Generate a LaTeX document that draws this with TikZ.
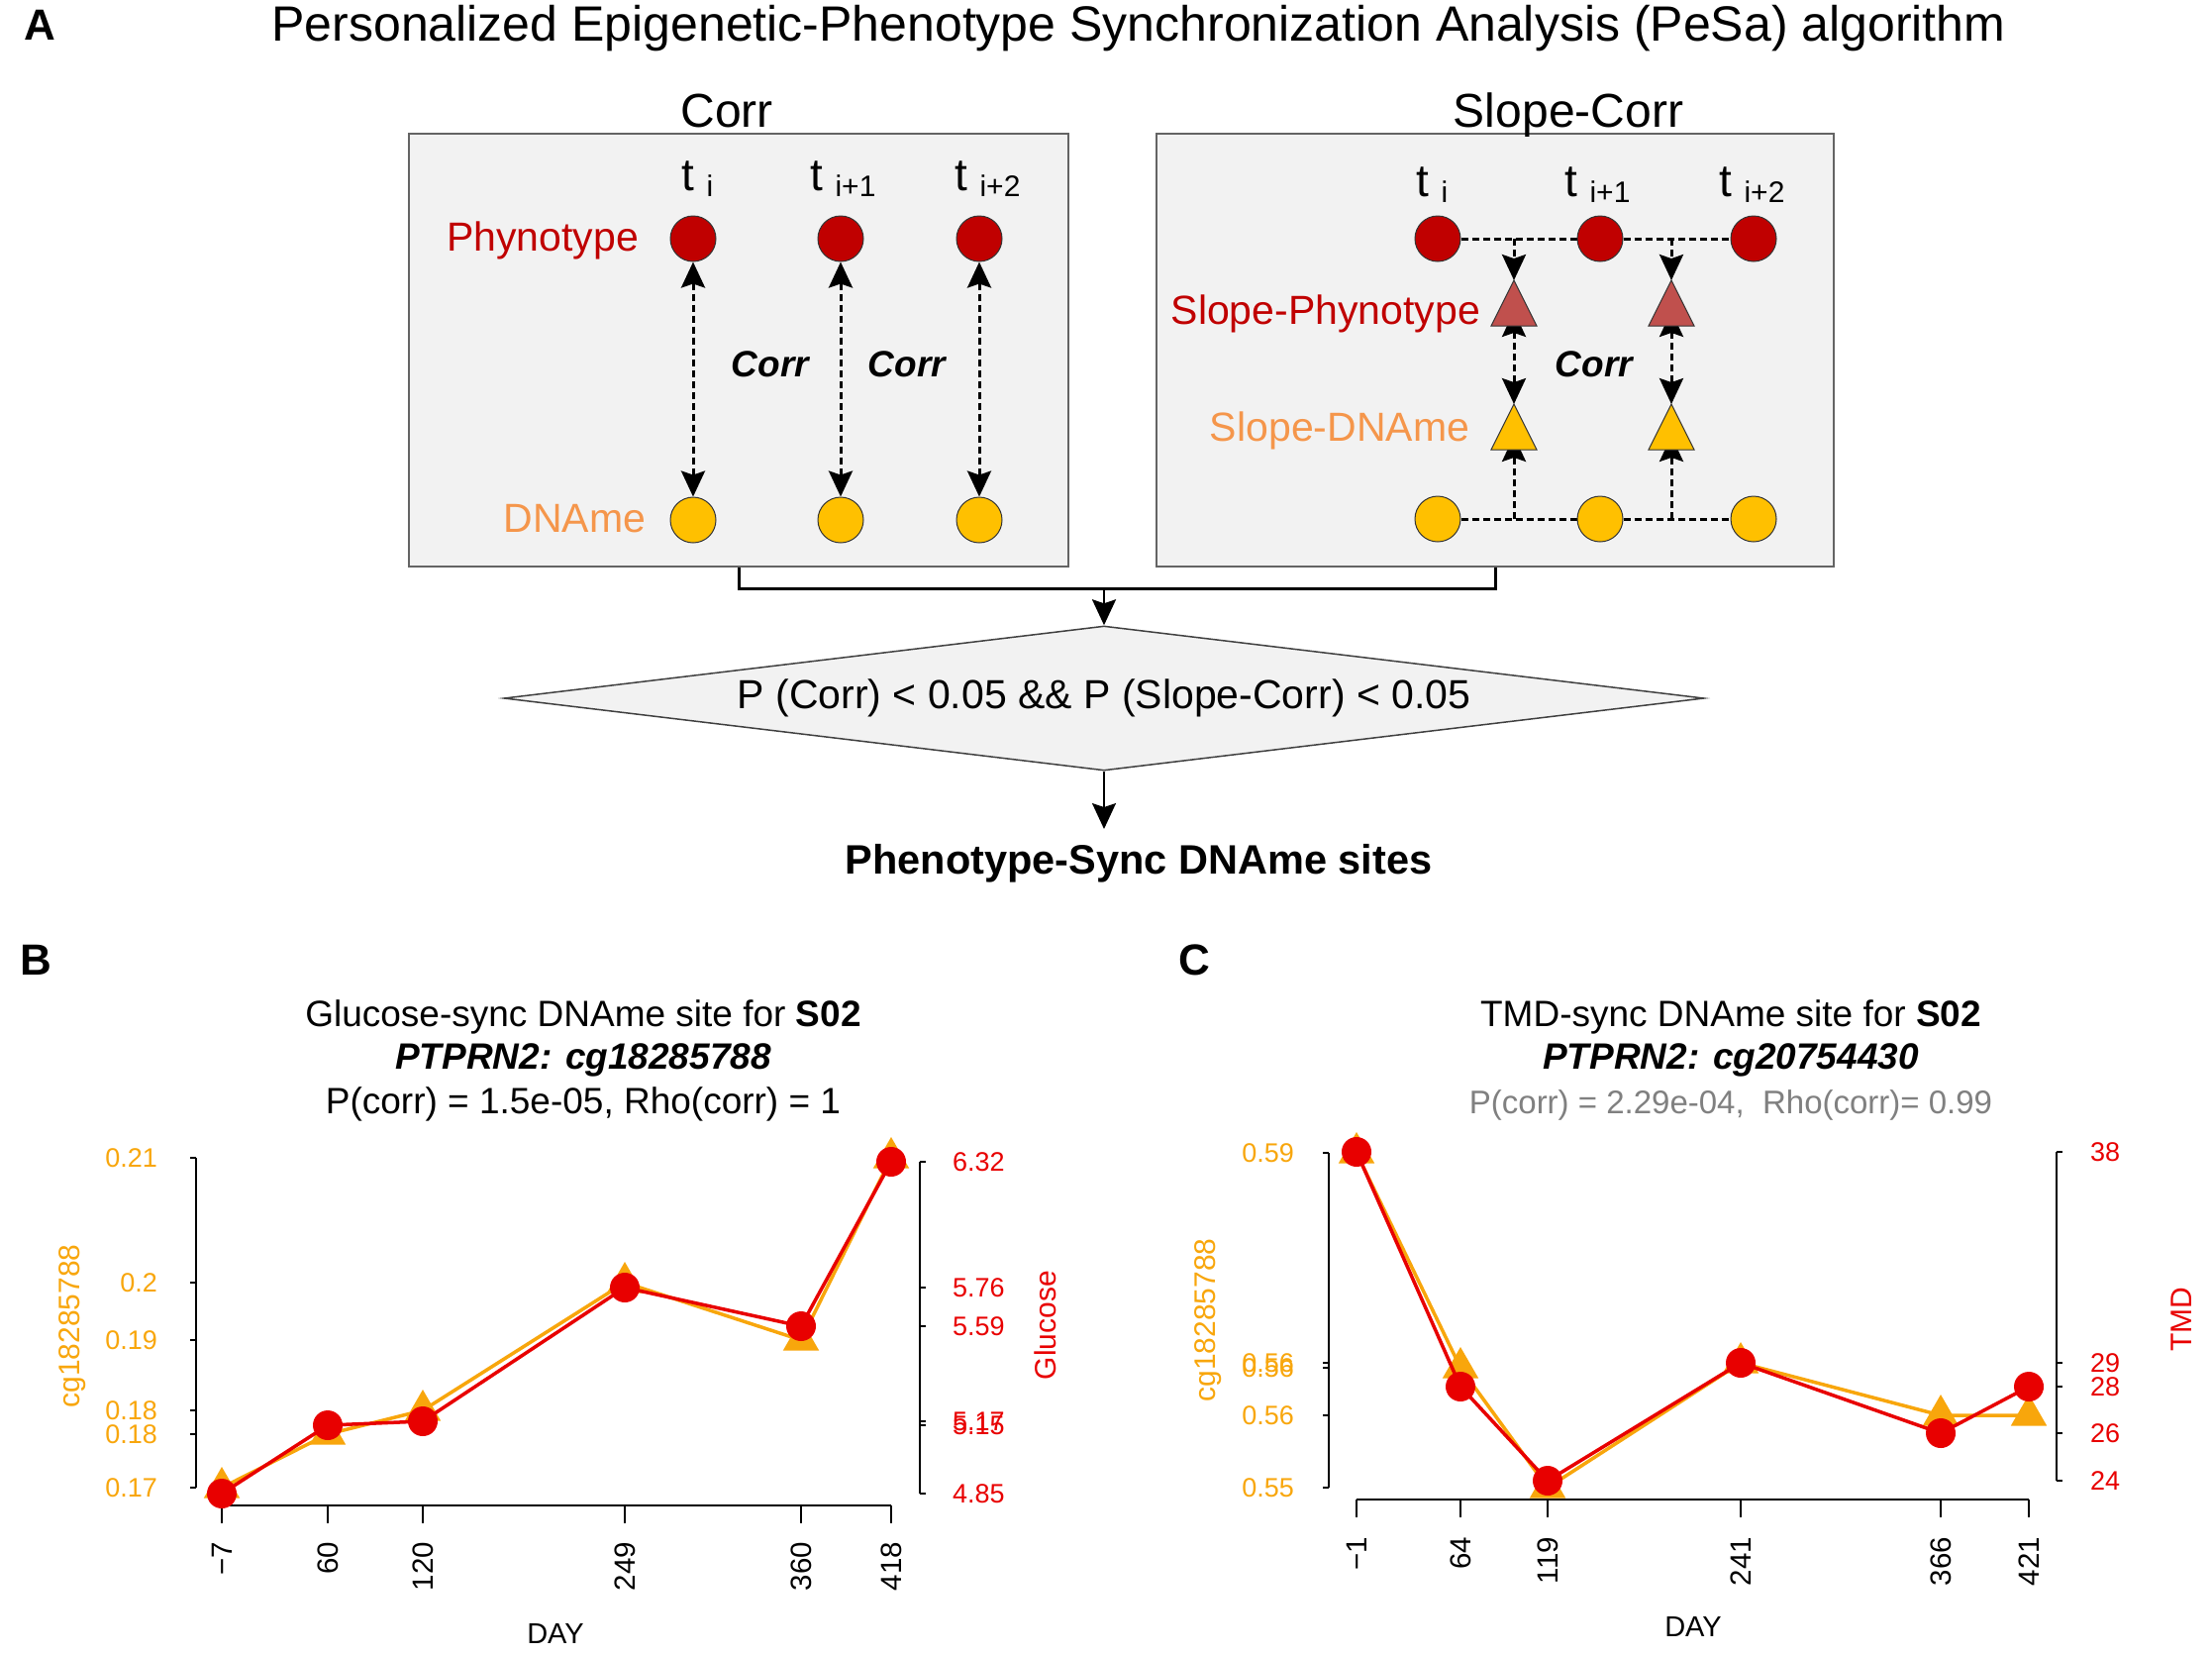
\documentclass[tikz,border=0pt]{standalone}
\usepackage{fontspec}
\setmainfont{Liberation Sans}
\usetikzlibrary{positioning,shapes.geometric,arrows.meta}

\definecolor{phenred}{RGB}{192,0,0}
\definecolor{dnayel}{RGB}{255,192,0}
\definecolor{dnaorange}{RGB}{245,150,75}
\definecolor{slopered}{RGB}{192,80,77}
\definecolor{boxfill}{RGB}{242,242,242}
\definecolor{boxline}{RGB}{100,100,100}
\definecolor{plotorange}{RGB}{248,166,12}
\definecolor{plotred}{RGB}{232,0,0}

\newcommand{\fsz}[1]{\fontsize{#1}{#1}\selectfont}
\newcommand{\tsub}[1]{\raisebox{-6pt}{\fsz{30}#1}}

\pgfdeclarelayer{back}
\pgfdeclarelayer{mid}
\pgfsetlayers{back,mid,main}

\begin{document}
\begin{tikzpicture}[
    x = 1pt,
    y = -1pt,
    txt/.style={
        inner sep = 0pt,
        outer sep = 0pt
    },
    panel/.style={
        draw = boxline,
        fill = boxfill,
        line width = 2pt,
        minimum height = 437pt,
        inner sep = 0pt
    },
    phen/.style={
        circle,
        draw = black!80,
        line width = 1pt,
        fill = phenred,
        minimum size = 46pt,
        inner sep = 0pt
    },
    dname/.style={phen, fill = dnayel},
    ptri/.style={
        isosceles triangle,
        shape border rotate = 90,
        isosceles triangle stretches,
        minimum width = 46pt,
        minimum height = 46pt,
        inner sep = 0pt,
        outer sep = 0pt,
        draw = black!80,
        line width = 1pt,
        fill = slopered
    },
    dtri/.style={ptri, fill = dnayel},
    dshd/.style={line width = 3pt, dash pattern = on 7pt off 4pt},
    conn/.style={line width = 3pt},
    axis/.style={line width = 2pt},
    tick/.style={txt, font = \fsz{27}},
    xtick/.style={txt, font = \fsz{29.5}, rotate = 90, anchor = east},
    axlab/.style={txt, font = \fsz{30}, rotate = 90},
    otri/.style={
        regular polygon,
        regular polygon sides = 3,
        minimum size = 42pt,
        inner sep = 0pt,
        fill = plotorange
    },
    rdot/.style={
        circle,
        minimum size = 30pt,
        inner sep = 0pt,
        fill = plotred
    },
    oline/.style={line width = 3.5pt, plotorange},
    rline/.style={line width = 3.5pt, plotred},
    >={Stealth[length=26pt,width=24pt,inset=4pt]}
]
\useasboundingbox (0,0) rectangle (2234,1671);

% ---- A: the algorithm
\node[txt, font = \bfseries\fsz{44}, anchor = base] (lettA) at (40,40) {A};
\node[txt, font = \fsz{50}, anchor = base] (title) at (1150,41)
    {Personalized Epigenetic-Phenotype Synchronization Analysis (PeSa) algorithm};

\begin{pgfonlayer}{back}
\node[panel, minimum width = 666pt] (corrbox) at (746,353.5) {};
\node[panel, minimum width = 684pt] (slopebox) at (1510,353.5) {};
\end{pgfonlayer}
\node[txt, font = \fsz{48}, anchor = base] (corrhd) at (734,128) {Corr};
\node[txt, font = \fsz{48}, anchor = base] (slopehd) at (1584,128) {Slope-Corr};

\node[txt, font = \fsz{41}, text = phenred, anchor = base east] (phenlab) at (645,253) {Phynotype};
\node[txt, font = \fsz{41}, text = dnaorange, anchor = base east] (dnalab) at (652,537) {DNAme};
\node[txt, font = \fsz{41}, text = phenred, anchor = base east] (sphenlab) at (1495,327) {Slope-Phynotype};
\node[txt, font = \fsz{41}, text = dnaorange, anchor = base east] (sdnalab) at (1484,445) {Slope-DNAme};

\foreach \ai/\xx in {1/700,2/849,3/989}
{
    \node[phen] (lp\ai) at (\xx,241) {};
    \node[dname] (ld\ai) at (\xx,525) {};
}
\foreach \ai/\xx in {1/1452,2/1616,3/1771}
{
    \node[phen] (rp\ai) at (\xx,241) {};
    \node[dname] (rd\ai) at (\xx,524) {};
}
\foreach \ai/\xx/\ts in {1/688/i,2/818/i+1,3/964/i+2}
    \node[txt, font = \fsz{46}, anchor = base west] (lt\ai) at (\xx,192) {t \tsub{\ts}};
\foreach \ai/\xx/\ts in {1/1430/i,2/1580/i+1,3/1736/i+2}
    \node[txt, font = \fsz{46}, anchor = base west] (rt\ai) at (\xx,198) {t \tsub{\ts}};

\foreach \ai/\xx in {1/1529,2/1688}
{
    \node[ptri, anchor = apex] (st\ai) at (\xx,283) {};
    \node[dtri, anchor = apex] (sd\ai) at (\xx,408) {};
}
\foreach \ai/\xx in {1/778,2/916,3/1610}
    \node[txt, font = \bfseries\itshape\fsz{37}, anchor = base] (corr\ai) at (\xx,380) {Corr};

\begin{pgfonlayer}{mid}
\foreach \ai in {1,2,3}
    \draw[dshd, <->] (lp\ai) -- (ld\ai);
\draw[dshd] (rp1) -- (rp2);
\draw[dshd] (rp2) -- (rp3);
\draw[dshd] (rd1) -- (rd2);
\draw[dshd] (rd2) -- (rd3);
\foreach \ai in {1,2}
{
    \draw[dshd, ->] (st\ai.apex |- rp1) -- (st\ai.apex);
    \draw[dshd, <->] ([yshift=15pt]st\ai.lower side) -- (sd\ai.apex);
    \draw[dshd, ->] (sd\ai.apex |- rd1) -- ([yshift=14pt]sd\ai.lower side);
}
\end{pgfonlayer}

\draw[conn] (corrbox.south) -- ++(0,21) -| (slopebox.south);
\coordinate (join) at (1115,593);
\node[diamond, draw = black!75, fill = boxfill, line width = 1.5pt,
    minimum width = 1212pt, minimum height = 146pt, aspect = 8.3,
    inner sep = 0pt, font = \fsz{41}] (cond) at (1115,705)
    {P (Corr) < 0.05 \&\& P (Slope-Corr) < 0.05};
\draw[line width = 2.5pt, ->] (join) -- (cond.north);
\coordinate (resin) at (1115,837);
\draw[line width = 2pt, ->] (cond.south) -- (resin);
\node[txt, font = \bfseries\fsz{41.5}, anchor = base] (result) at (1150,882)
    {Phenotype-Sync DNAme sites};

% ---- B: glucose
\node[txt, font = \bfseries\fsz{44}, anchor = base] (lettB) at (36,984) {B};
\node[txt, font = \fsz{37}, anchor = base] (btitle1) at (589,1036)
    {Glucose-sync DNAme site for \textbf{S02}};
\node[txt, font = \bfseries\itshape\fsz{37}, anchor = base] (btitle2) at (589,1079)
    {PTPRN2: cg18285788};
\node[txt, font = \fsz{37}, anchor = base] (btitle3) at (589,1124)
    {P(corr) = 1.5e-05, Rho(corr) = 1};

\draw[axis] (198,1169) -- (198,1502);
\draw[axis] (929,1173) -- (929,1508);
\draw[axis] (224,1520) -- (900,1520);
\foreach \yy/\tl in {1169/0.21,1295/0.2,1353/0.19,1424/0.18,1448/0.18,1502/0.17}
{
    \draw[axis] (198,\yy) -- (192,\yy);
    \node[tick, text = plotorange, anchor = east] (bl\yy) at (159,\yy) {\tl};
}
\foreach \yy/\tl in {1173/6.32,1300/5.76,1339/5.59,1435/5.17,1439/5.15,1508/4.85}
{
    \draw[axis] (929,\yy) -- (935,\yy);
    \node[tick, text = plotred, anchor = west] (br\yy) at (962,\yy) {\tl};
}
\foreach \xx/\tl in {224/−7,331/60,427/120,631/249,809/360,900/418}
{
    \draw[axis] (\xx,1520) -- (\xx,1538);
    \node[xtick] (bx\xx) at (\xx,1557) {\tl};
}
\node[axlab, text = plotorange] (bylab) at (73,1339) {cg18285788};
\node[axlab, text = plotred] (bzlab) at (1056,1338) {Glucose};
\node[txt, font = \fsz{29}] (bxlab) at (561,1649) {DAY};

\foreach \ai/\xx/\yy in {1/224/1502,2/331/1448,3/427/1424,4/631/1295,5/809/1353,6/900/1169}
    \coordinate (bo\ai) at (\xx,\yy);
\foreach \ai/\xx/\yy in {1/224/1508,2/331/1439,3/427/1435,4/631/1300,5/809/1339,6/900/1173}
    \coordinate (br\ai) at (\xx,\yy);
\draw[oline] (bo1) \foreach \ai in {2,...,6} { -- (bo\ai) };
\foreach \ai in {1,...,6}
    \node[otri] (bom\ai) at (bo\ai) {};
\draw[rline] (br1) \foreach \ai in {2,...,6} { -- (br\ai) };
\foreach \ai in {1,...,6}
    \node[rdot] (brm\ai) at (br\ai) {};

% ---- C: TMD
\node[txt, font = \bfseries\fsz{44}, anchor = base] (lettC) at (1206,984) {C};
\node[txt, font = \fsz{37}, anchor = base] (ctitle1) at (1748,1036)
    {TMD-sync DNAme site for \textbf{S02}};
\node[txt, font = \bfseries\itshape\fsz{37}, anchor = base] (ctitle2) at (1748,1079)
    {PTPRN2: cg20754430};
\node[txt, font = \fsz{33}, text = black!50, anchor = base] (ctitle3) at (1748,1124)
    {P(corr) = 2.29e-04,\ \ Rho(corr)= 0.99};

\draw[axis] (1342,1164) -- (1342,1502);
\draw[axis] (2077,1163) -- (2077,1495);
\draw[axis] (1370,1514) -- (2049,1514);
\foreach \yy/\tl in {1164/0.59,1376/0.56,1381/0.56,1429/0.56,1502/0.55}
{
    \draw[axis] (1342,\yy) -- (1336,\yy);
    \node[tick, text = plotorange, anchor = east] (cl\yy) at (1307,\yy) {\tl};
}
\foreach \yy/\tl in {1163/38,1376/29,1400/28,1447/26,1495/24}
{
    \draw[axis] (2077,\yy) -- (2083,\yy);
    \node[tick, text = plotred, anchor = west] (cr\yy) at (2111,\yy) {\tl};
}
\foreach \xx/\tl in {1370/−1,1475/64,1563/119,1758/241,1960/366,2049/421}
{
    \draw[axis] (\xx,1514) -- (\xx,1532);
    \node[xtick] (cx\xx) at (\xx,1552) {\tl};
}
\node[axlab, text = plotorange] (cylab) at (1220,1333) {cg18285788};
\node[axlab, text = plotred] (czlab) at (2203,1332) {TMD};
\node[txt, font = \fsz{29}] (cxlab) at (1710,1642) {DAY};

\foreach \ai/\xx/\yy in {1/1370/1164,2/1475/1381,3/1563/1502,4/1758/1376,5/1960/1429,6/2049/1429}
    \coordinate (co\ai) at (\xx,\yy);
\foreach \ai/\xx/\yy in {1/1370/1163,2/1475/1400,3/1563/1495,4/1758/1376,5/1960/1447,6/2049/1400}
    \coordinate (cr\ai) at (\xx,\yy);
\draw[oline] (co1) \foreach \ai in {2,...,6} { -- (co\ai) };
\foreach \ai in {1,...,6}
    \node[otri] (com\ai) at (co\ai) {};
\draw[rline] (cr1) \foreach \ai in {2,...,6} { -- (cr\ai) };
\foreach \ai in {1,...,6}
    \node[rdot] (crm\ai) at (cr\ai) {};

\end{tikzpicture}
\end{document}
